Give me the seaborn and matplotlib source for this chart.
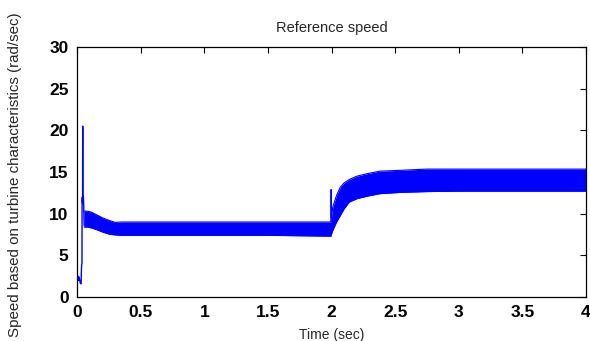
import numpy as np
import pandas as pd
import matplotlib
matplotlib.use("Agg")
import matplotlib.pyplot as plt
import seaborn as sns

# Start-up transient (thin trace)
transient_t = [0.000, 0.004, 0.008, 0.012, 0.016, 0.020, 0.024, 0.028, 0.032,
               0.035, 0.037, 0.039, 0.040, 0.042, 0.044, 0.045, 0.046, 0.048,
               0.050, 0.052, 0.054, 0.056]
transient_speed = [2.4, 2.0, 2.5, 2.0, 2.4, 2.1, 1.8, 1.6, 1.6,
                   3.4, 3.9, 4.0, 11.5, 12.0, 11.3, 20.5, 12.0, 11.2,
                   12.1, 11.4, 10.2, 8.6]

# Fast-oscillation band (upper / lower envelopes)
band_t = [0.055, 0.08, 0.11, 0.15, 0.20, 0.25, 0.30, 0.35, 1.00, 1.50, 1.995,
          2.01, 2.04, 2.07, 2.10, 2.14, 2.20, 2.28, 2.38, 2.54, 2.75, 3.00,
          3.50, 4.00]
band_upper = [10.3, 10.3, 10.2, 9.9, 9.5, 9.2, 8.95, 9.0, 9.0, 9.0, 9.0,
              10.8, 12.2, 13.2, 13.7, 14.1, 14.5, 14.8, 15.1, 15.2, 15.35, 15.35,
              15.35, 15.35]
band_lower = [8.4, 8.4, 8.3, 8.1, 7.8, 7.55, 7.45, 7.4, 7.4, 7.4, 7.3,
              8.0, 9.0, 9.8, 10.6, 11.4, 11.8, 12.1, 12.4, 12.55, 12.65, 12.7,
              12.7, 12.7]

# Switching spike at t = 2 s
spike_t = [1.996, 1.997, 1.998]
spike_speed = [9.0, 12.9, 9.5]

x_ticks = [0, 0.5, 1, 1.5, 2, 2.5, 3, 3.5, 4]
x_tick_labels = ["0", "0.5", "1", "1.5", "2", "2.5", "3", "3.5", "4"]
y_ticks = [0, 5, 10, 15, 20, 25, 30]

sns.set_theme(style="white")
plt.rcParams["font.family"] = ["Liberation Sans", "DejaVu Sans"]

fig = plt.figure(figsize=(5.9, 3.41), dpi=100)
ax = fig.add_axes([77 / 590, 44 / 341, 509 / 590, 250 / 341])

blue = "#0000ff"
band = pd.DataFrame({"t": band_t, "upper": band_upper, "lower": band_lower})
ax.fill_between(band["t"], band["lower"], band["upper"], color=blue,
                linewidth=0, antialiased=False)
sns.lineplot(data=band, x="t", y="upper", ax=ax, color=blue, linewidth=0.8)
sns.lineplot(data=band, x="t", y="lower", ax=ax, color=blue, linewidth=0.8)
sns.lineplot(x=transient_t, y=transient_speed, ax=ax, color=blue, linewidth=1.0,
             sort=False, estimator=None)
sns.lineplot(x=spike_t, y=spike_speed, ax=ax, color=blue, linewidth=0.8,
             sort=False, estimator=None)

ax.set_xlim(0, 4)
ax.set_ylim(0, 30)
ax.set_xticks(x_ticks)
ax.set_xticklabels(x_tick_labels)
ax.set_yticks(y_ticks)
ax.tick_params(direction="in", length=4, width=0.8, top=True, right=True,
               labelsize=12.5, colors="black", pad=6)
for lbl in ax.get_xticklabels() + ax.get_yticklabels():
    lbl.set_fontweight("bold")
for s in ax.spines.values():
    s.set_color("black")
    s.set_linewidth(0.9)
ax.grid(False)

ax.set_title("Reference speed", fontsize=10.5, pad=11)
ax.set_xlabel("Time (sec)", fontsize=10)
ax.xaxis.set_label_coords(0.5, -0.122)
ax.xaxis.label.set_va("top")
ax.set_ylabel("Speed based on turbine characteristics (rad/sec)", fontsize=10.9)
ax.yaxis.set_label_coords(-0.108, 0.49)

fig.savefig("out.png", dpi=100)
